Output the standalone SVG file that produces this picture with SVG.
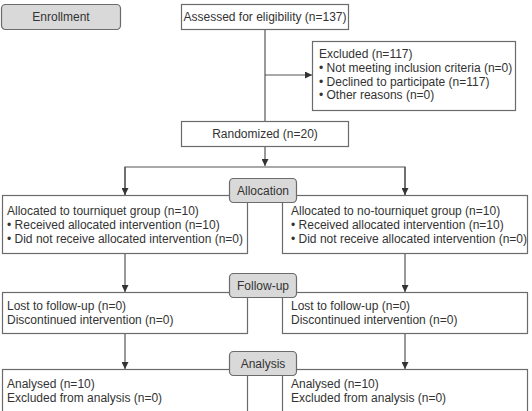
<svg xmlns="http://www.w3.org/2000/svg" width="532" height="411" viewBox="0 0 532 411">
<style>
.box{fill:#fff;stroke:#6b6b6b;stroke-width:1.2}
.lbl{fill:#d9d9d9;stroke:#6b6b6b;stroke-width:1.2}
.ln{fill:none;stroke:#555;stroke-width:1.2}
text{font-family:"Liberation Sans",Arial,sans-serif;font-size:12px;fill:#333}
.c{text-anchor:middle}
</style>
<defs>
<marker id="ah" viewBox="0 0 10 10" refX="10" refY="5" markerWidth="7" markerHeight="7" markerUnits="userSpaceOnUse" orient="auto">
<path d="M0,0 L10,5 L0,10 Z" fill="#333"/>
</marker>
</defs>
<rect width="532" height="411" fill="#fff"/>
<g id="connectors">
<line class="ln" x1="265" y1="29" x2="265" y2="121"/>
<line class="ln" x1="265" y1="75" x2="312" y2="75" marker-end="url(#ah)"/>
<line class="ln" x1="265" y1="146" x2="265" y2="166" marker-end="url(#ah)"/>
<polyline class="ln" points="125,195 125,167 405,167 405,195"/>
<line class="ln" x1="125" y1="167" x2="125" y2="195" marker-end="url(#ah)"/>
<line class="ln" x1="405" y1="167" x2="405" y2="195" marker-end="url(#ah)"/>
<line class="ln" x1="125" y1="254" x2="125" y2="292" marker-end="url(#ah)"/>
<line class="ln" x1="405" y1="254" x2="405" y2="292" marker-end="url(#ah)"/>
<line class="ln" x1="125" y1="334" x2="125" y2="369" marker-end="url(#ah)"/>
<line class="ln" x1="405" y1="334" x2="405" y2="369" marker-end="url(#ah)"/>
</g>
<g id="enrollment">
<rect class="lbl" x="1.5" y="4.5" width="119" height="25" rx="4"/>
<text class="c" x="61" y="21">Enrollment</text>
</g>
<g id="assessed">
<rect class="box" x="181.5" y="4.5" width="167" height="25"/>
<text class="c" x="265" y="21">Assessed for eligibility (n=137)</text>
</g>
<g id="excluded">
<rect class="box" x="312.5" y="41.5" width="203" height="69"/>
<text x="319" y="58">Excluded (n=117)</text>
<text x="319" y="72">• Not meeting inclusion criteria (n=0)</text>
<text x="319" y="85.5">• Declined to participate (n=117)</text>
<text x="319" y="99">• Other reasons (n=0)</text>
</g>
<g id="randomized">
<rect class="box" x="181.5" y="121.5" width="167" height="25"/>
<text class="c" x="265" y="138">Randomized (n=20)</text>
</g>
<g id="alloc-left">
<rect class="box" x="2.5" y="195.5" width="245" height="58"/>
<text x="7" y="215">Allocated to tourniquet group (n=10)</text>
<text x="7" y="229">• Received allocated intervention (n=10)</text>
<text x="7" y="242.5">• Did not receive allocated intervention (n=0)</text>
</g>
<g id="alloc-right">
<rect class="box" x="282.5" y="195.5" width="245" height="58"/>
<text x="291" y="215">Allocated to no-tourniquet group (n=10)</text>
<text x="291" y="229">• Received allocated intervention (n=10)</text>
<text x="291" y="242.5">• Did not receive allocated intervention (n=0)</text>
</g>
<g id="allocation">
<rect class="lbl" x="229.5" y="178.5" width="67" height="24" rx="4"/>
<text class="c" x="263" y="195">Allocation</text>
</g>
<g id="follow-left">
<rect class="box" x="2.5" y="292.5" width="245" height="41"/>
<text x="7" y="310">Lost to follow-up (n=0)</text>
<text x="7" y="323.5">Discontinued intervention (n=0)</text>
</g>
<g id="follow-right">
<rect class="box" x="282.5" y="292.5" width="245" height="41"/>
<text x="291" y="310">Lost to follow-up (n=0)</text>
<text x="291" y="323.5">Discontinued intervention (n=0)</text>
</g>
<g id="followup">
<rect class="lbl" x="229.5" y="273.5" width="67" height="24" rx="4"/>
<text class="c" x="263" y="290">Follow-up</text>
</g>
<g id="analysis-left">
<rect class="box" x="2.5" y="369.5" width="245" height="50"/>
<text x="7" y="388">Analysed (n=10)</text>
<text x="7" y="401.5">Excluded from analysis (n=0)</text>
</g>
<g id="analysis-right">
<rect class="box" x="282.5" y="369.5" width="245" height="50"/>
<text x="291" y="388">Analysed (n=10)</text>
<text x="291" y="401.5">Excluded from analysis (n=0)</text>
</g>
<g id="analysis">
<rect class="lbl" x="229.5" y="351.5" width="67" height="24" rx="4"/>
<text class="c" x="263" y="368">Analysis</text>
</g>
</svg>
